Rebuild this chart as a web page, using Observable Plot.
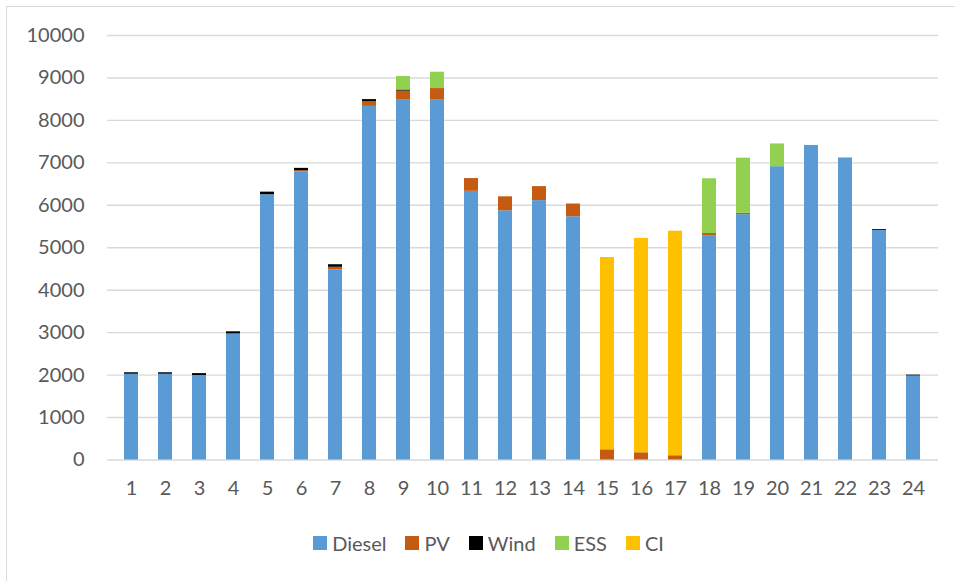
<!DOCTYPE html>
<html>
<head>
<meta charset="utf-8">
<script src="https://cdn.jsdelivr.net/npm/d3@7"></script>
<script src="https://cdn.jsdelivr.net/npm/@observablehq/plot@0.6"></script>
<style>
  html, body { margin: 0; padding: 0; background: #fff; }
  #wrap { position: relative; width: 955px; height: 581px; overflow: hidden; font-family: Lato, "Open Sans", sans-serif; }
  #frame { position: absolute; left: 6px; top: 6px; width: 1000px; height: 600px; border: 1px solid #d9d9d9; box-sizing: border-box; }
  #chart { position: absolute; left: 0; top: 0; }
  #legend { position: absolute; left: 0; top: 531px; width: 955px; height: 24px; display: flex; justify-content: center; align-items: center; padding-left: 22px; box-sizing: border-box; color: #595959; font-size: 20px; }
  .item { display: flex; align-items: center; margin: 0 9.5px; }
  .sw { width: 14px; height: 14px; margin-right: 5px; }
</style>
</head>
<body>
<div id="wrap">
  <div id="frame"></div>
  <div id="chart"></div>
  <div id="legend"></div>
</div>
<script>
const hours = Array.from({length: 24}, (_, i) => i + 1);
const seriesNames = ["Diesel", "PV", "Wind", "ESS", "CI"];
const seriesColors = ["#5b9bd5", "#c55a11", "#000000", "#92d050", "#ffc000"];

const diesel = [2020, 2020, 1990, 2970, 6250, 6785, 4480, 8330, 8490, 8490, 6330, 5870, 6110, 5730, 0, 0, 0, 5275, 5780, 6910, 7410, 7115, 5410, 1980];
const pv     = [0, 0, 0, 0, 0, 30, 60, 110, 200, 260, 300, 330, 330, 300, 240, 170, 100, 60, 30, 0, 0, 0, 0, 0];
const wind   = [35, 35, 45, 50, 60, 55, 60, 50, 25, 0, 0, 0, 0, 0, 0, 0, 0, 0, 0, 0, 0, 0, 20, 20];
const ess    = [0, 0, 0, 0, 0, 0, 0, 0, 320, 385, 0, 0, 0, 0, 0, 0, 0, 1290, 1300, 535, 0, 0, 0, 0];
const ci     = [0, 0, 0, 0, 0, 0, 0, 0, 0, 0, 0, 0, 0, 0, 4530, 5050, 5290, 0, 0, 0, 0, 0, 0, 0];

const yTicks = [0, 1000, 2000, 3000, 4000, 5000, 6000, 7000, 8000, 9000, 10000];

const seriesValues = [diesel, pv, wind, ess, ci];
const data = [];
seriesNames.forEach((name, si) => {
  hours.forEach((h, i) => data.push({hour: h, series: name, value: seriesValues[si][i]}));
});

const chart = Plot.plot({
  width: 955,
  height: 510,
  marginTop: 35,
  marginBottom: 50.5,
  marginLeft: 107,
  marginRight: 17,
  style: {fontFamily: "Lato, 'Open Sans', sans-serif", fontSize: "20px", color: "#595959", background: "transparent"},
  x: {type: "band", domain: hours, paddingInner: 0.585, paddingOuter: 0.2925, label: null},
  y: {domain: [0, 10000], label: null},
  color: {domain: seriesNames, range: seriesColors},
  marks: [
    Plot.ruleY(yTicks, {stroke: "#d9d9d9", strokeWidth: 1.4}),
    Plot.barY(data, Plot.stackY({x: "hour", y: "value", fill: "series", order: seriesNames})),
    Plot.axisX({tickSize: 0, tickPadding: 21, fill: "#595959"}),
    Plot.axisY({ticks: yTicks, tickSize: 0, tickPadding: 23, tickFormat: d => String(d), fill: "#595959"})
  ]
});
document.getElementById("chart").appendChild(chart);

const legend = document.getElementById("legend");
seriesNames.forEach((name, i) => {
  const item = document.createElement("div");
  item.className = "item";
  const sw = document.createElement("div");
  sw.className = "sw";
  sw.style.background = seriesColors[i];
  const t = document.createElement("span");
  t.textContent = name;
  item.appendChild(sw);
  item.appendChild(t);
  legend.appendChild(item);
});
</script>
</body>
</html>
